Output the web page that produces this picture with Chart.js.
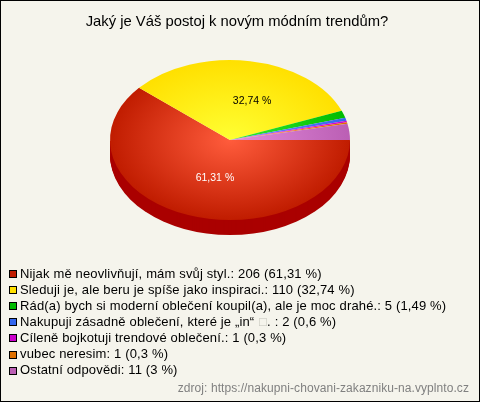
<!DOCTYPE html>
<html>
<head>
<meta charset="utf-8">
<title>Jaký je Váš postoj k novým módním trendům?</title>
<script src="https://cdn.jsdelivr.net/npm/chart.js@4"></script>
<style>
html, body { margin: 0; padding: 0; background: #f5f4ec; }
#wrap { width: 480px; height: 402px; position: relative; }
#wrap canvas { display: block; }
</style>
</head>
<body>
<div id="wrap"><canvas id="pie" width="480" height="402"></canvas></div>
<script>
const chartTitle = 'Jaký je Váš postoj k novým módním trendům?';
const categories = ['Nijak mě neovlivňují, mám svůj styl.', 'Sleduji je, ale beru je spíše jako inspiraci.',
  'Rád(a) bych si moderní oblečení koupil(a), ale je moc drahé.', 'Nakupuji zásadně oblečení, které je „in“ \u25A1. ',
  'Cíleně bojkotuji trendové oblečení.', 'vubec neresim', 'Ostatní odpovědi'];
const answers = [206, 110, 5, 2, 1, 1, 11];
const percents = ['61,31 %', '32,74 %', '1,49 %', '0,6 %', '0,3 %', '0,3 %', '3 %'];
const sliceLabels = ['61,31 %', '32,74 %', '', '', '', '', ''];
const labelColors = ['#ffffff', '#000000', '', '', '', '', ''];
const innerColors = ['#ff5c3c', '#ffff33', '#33ee33', '#6f8fff', '#ff33ff', '#ff9933', '#e38bdc'];
const outerColors = ['#c01c00', '#ffe000', '#00bb00', '#3366ee', '#cc00cc', '#e07000', '#bb5fb4'];
const sideColors = ['#aa0000', '#ccaa00', '#008800', '#2233aa', '#990099', '#aa5500', '#884488'];
const source = 'zdroj: https://nakupni-chovani-zakazniku-na.vyplnto.cz';

const centerX = 230, centerY = 140, squash = 2 / 3, depth = 15;

// the pie is drawn round by chart.js, this squashes it and puts the rim under it
const tiltPlugin = {
  id: 'tilt',
  beforeDatasetsDraw(chart) {
    const ctx = chart.ctx;
    const arcs = chart.getDatasetMeta(0).data;
    ctx.save();
    for (let d = depth; d > 0; d--) {
      arcs.forEach(function(arc, i) {
        // only the front half of the pie shows a rim
        const from = Math.max(arc.startAngle, 0), to = Math.min(arc.endAngle, Math.PI);
        if (to <= from) return;
        ctx.save();
        ctx.translate(centerX, centerY + d);
        ctx.scale(1, squash);
        ctx.beginPath();
        ctx.moveTo(0, 0);
        ctx.arc(0, 0, arc.outerRadius, from, to);
        ctx.closePath();
        ctx.fillStyle = sideColors[i];
        ctx.fill();
        ctx.restore();
      });
    }
    const first = arcs[0];
    ctx.translate(centerX, centerY);
    ctx.scale(1, squash);
    ctx.translate(-first.x, -first.y);
  },
  afterDatasetsDraw(chart) {
    const ctx = chart.ctx;
    ctx.restore();
    const arcs = chart.getDatasetMeta(0).data;
    ctx.save();
    ctx.font = '10.5px "Liberation Sans"';
    ctx.textAlign = 'center';
    ctx.textBaseline = 'middle';
    arcs.forEach(function(arc, i) {
      if (!sliceLabels[i]) return;
      const mid = (arc.startAngle + arc.endAngle) / 2;
      ctx.fillStyle = labelColors[i];
      ctx.fillText(sliceLabels[i], centerX + 10 + Math.cos(mid) * 72, centerY + 1 + Math.sin(mid) * 40);
    });
    ctx.restore();
  }
};

const legendPlugin = {
  id: 'sideLegend',
  afterDraw(chart) {
    const ctx = chart.ctx;
    ctx.save();
    ctx.textAlign = 'left';
    ctx.textBaseline = 'middle';
    categories.forEach(function(name, i) {
      const y = 274 + i * 16.1;
      ctx.fillStyle = outerColors[i];
      ctx.fillRect(9.5, Math.round(y) - 3.5, 7, 7);
      ctx.strokeStyle = '#000000';
      ctx.lineWidth = 1;
      ctx.strokeRect(9.5, Math.round(y) - 3.5, 7, 7);
      ctx.fillStyle = '#000000';
      ctx.font = '13px "Liberation Sans"';
      ctx.letterSpacing = '0.15px';
      const text = name + ': ' + answers[i] + ' (' + percents[i] + ')';
      // the broken glyph in the answer is paler than the rest of the line
      const parts = text.split('\u25A1');
      if (parts.length == 2) {
        ctx.fillText(parts[0], 20, y);
        const boxX = 20 + ctx.measureText(parts[0]).width + 1;
        ctx.fillStyle = '#c4c4bc';
        ctx.fillText('\u25A1', boxX, y);
        ctx.fillStyle = '#000000';
        ctx.fillText(parts[1], boxX + 8, y);
      } else {
        ctx.fillText(text, 20, y);
      }
    });
    ctx.letterSpacing = '0.07px';
    ctx.fillStyle = '#808080';
    ctx.font = '12px "Liberation Sans"';
    ctx.textAlign = 'right';
    ctx.fillText(source, 469, 389);
    // frame
    ctx.letterSpacing = '0px';
    ctx.strokeStyle = '#000000';
    ctx.lineWidth = 1;
    ctx.strokeRect(0.5, 0.5, 479, 401);
    ctx.restore();
  }
};

new Chart(document.getElementById('pie'), {
  type: 'pie',
  data: {
    labels: categories,
    datasets: [{
      data: answers,
      borderWidth: 0,
      radius: 120,
      backgroundColor: function(c) {
        const area = c.chart.chartArea;
        if (!area) return outerColors[c.dataIndex];
        const x = (area.left + area.right) / 2, y = (area.top + area.bottom) / 2;
        const g = c.chart.ctx.createRadialGradient(x, y, 0, x, y, 120);
        g.addColorStop(0, innerColors[c.dataIndex]);
        g.addColorStop(1, outerColors[c.dataIndex]);
        return g;
      }
    }]
  },
  options: {
    responsive: false,
    animation: false,
    rotation: 90,
    layout: { padding: { left: 0, right: 6, top: 13, bottom: 100 } },
    plugins: {
      legend: { display: false },
      tooltip: { enabled: false },
      title: {
        display: true,
        text: chartTitle,
        color: '#000000',
        font: { family: '"Liberation Sans"', size: 14.8, weight: 'normal' },
        padding: { top: 0, bottom: 10 }
      }
    }
  },
  plugins: [tiltPlugin, legendPlugin]
});
</script>
</body>
</html>
